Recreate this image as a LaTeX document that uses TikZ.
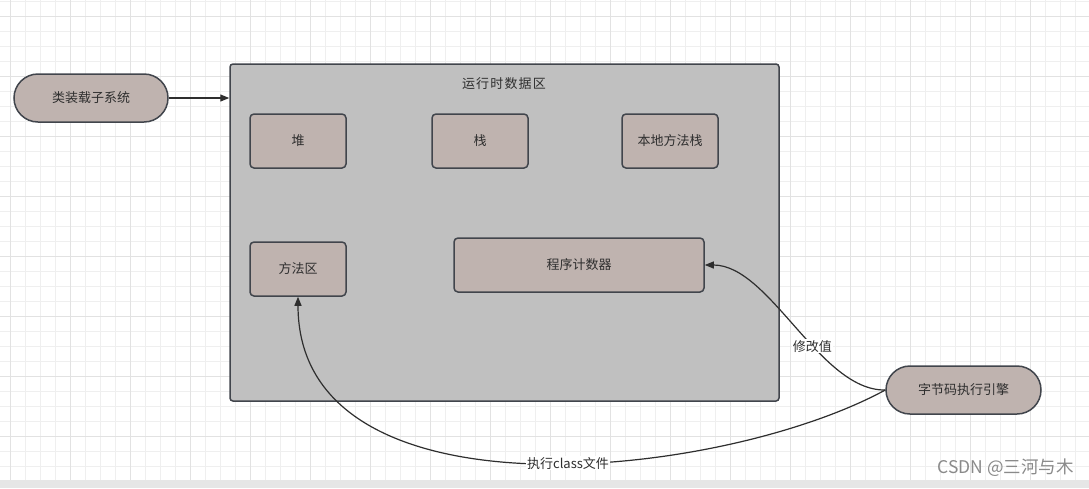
\documentclass[tikz,border=0pt]{standalone}
\usepackage{fontspec}
\usetikzlibrary{arrows.meta}
\newfontfamily\cjk{Noto Sans CJK SC}
\newfontfamily\cjktitle[LetterSpace=9]{Noto Sans CJK SC}
\definecolor{gridminor}{HTML}{EFEFEF}
\definecolor{gridmajor}{HTML}{E2E2E2}
\definecolor{boxfill}{HTML}{BFB3AF}
\definecolor{areafill}{HTML}{C0C0C0}
\definecolor{strokec}{HTML}{41454C}
\definecolor{textc}{HTML}{2E2E2E}
\definecolor{wmark}{HTML}{8A8A8A}
\definecolor{stripc}{HTML}{E6E6E6}
\tikzset{
  lbl/.style={font=\cjk\fontsize{13}{15}\selectfont, text=textc},
  boxnode/.style={lbl, draw=strokec, line width=1.5pt, fill=boxfill, rounded corners=4pt,
    minimum width=96pt, minimum height=54pt, inner sep=0pt},
  pill/.style={lbl, draw=strokec, line width=1.5pt, fill=boxfill, rounded corners=24pt,
    minimum width=154pt, minimum height=48pt, inner sep=0pt},
  area/.style={draw=strokec, line width=1.5pt, fill=areafill, rounded corners=3pt,
    minimum width=549pt, minimum height=337pt, inner sep=0pt},
  conn/.style={draw=textc, line width=1.2pt, -{Triangle[length=9pt,width=7pt]}},
  edgelbl/.style={lbl, fill=white, inner sep=1pt},
}
\begin{document}
\begin{tikzpicture}[x=1pt,y=-1pt]
\useasboundingbox (0,0) rectangle (1089,488);
\fill[white] (0,0) rectangle (1089,488);
% grid
\foreach \x in {10,25,...,1089} \draw[gridminor, line width=1pt] (\x,0) -- (\x,480);
\foreach \y in {1,16,...,480} \draw[gridminor, line width=1pt] (0,\y) -- (1089,\y);
\foreach \x in {10,70,...,1089} \draw[gridmajor, line width=1pt] (\x,0) -- (\x,480);
\foreach \y in {16,76,...,480} \draw[gridmajor, line width=1pt] (0,\y) -- (1089,\y);
\fill[stripc] (0,480) rectangle (1089,488);

% nodes
\node[pill] (loader) at (91,98) {类装载子系统};
\node[area] (area) at (504.5,232.5) {};
\node[lbl, font=\cjktitle\fontsize{13}{15}\selectfont] (title) at (504,84) {运行时数据区};
\node[boxnode] (heap) at (298,141) {堆};
\node[boxnode] (stack) at (480,141) {栈};
\node[boxnode] (native) at (670,141) {本地方法栈};
\node[boxnode] (method) at (298,269) {方法区};
\node[boxnode, minimum width=250pt] (pc) at (579,265) {程序计数器};
\node[pill, minimum width=155pt] (engine) at (963.5,390) {字节码执行引擎};

% connectors
\draw[conn] (loader.east) -- (loader.east -| area.west);
\draw[conn] (engine.west) .. controls (820,391) and (770,265) .. (pc.east)
  node[edgelbl, pos=0.4] {修改值};
\draw[conn] (engine.west) .. controls (720,480) and (298,525) .. (method.south)
  node[edgelbl, pos=0.45] {执行class文件};

% watermark
\node[anchor=east, font=\cjk\fontsize{17.5}{20}\selectfont, text=wmark, inner sep=0pt] (wm) at (1074,468) {CSDN @三河与木};
\end{tikzpicture}
\end{document}
